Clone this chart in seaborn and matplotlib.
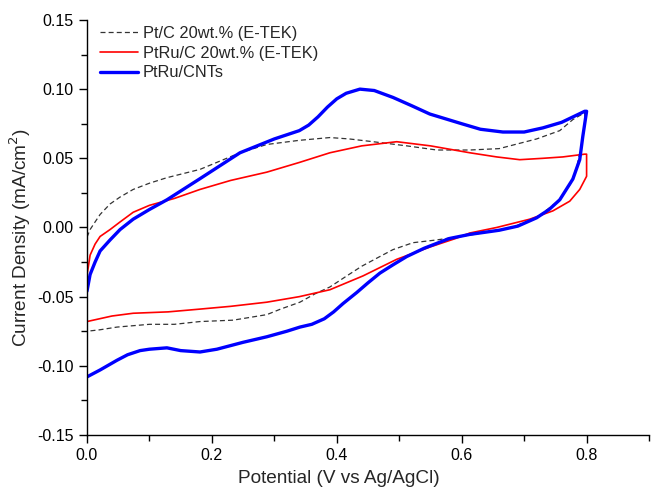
import matplotlib
matplotlib.use("Agg")
import matplotlib.pyplot as plt
import seaborn as sns
from matplotlib.ticker import MultipleLocator, FormatStrFormatter

# digitised CV loops: forward (anodic) sweep then reverse sweep
ptc_x = [0.0, 0.005, 0.013, 0.021, 0.037, 0.053, 0.074, 0.1, 0.128, 0.181, 0.245, 0.288, 0.34, 0.389,
         0.42, 0.458, 0.512, 0.56, 0.613, 0.66, 0.72, 0.757, 0.778, 0.797,
         0.797, 0.792, 0.785, 0.775, 0.757, 0.72, 0.68, 0.62, 0.56, 0.522, 0.49, 0.469, 0.44, 0.416,
         0.389, 0.365, 0.341, 0.31, 0.288, 0.234, 0.181, 0.14, 0.1, 0.048, 0.02, 0.0]
ptc_y = [-0.007, -0.0015, 0.004, 0.0094, 0.017, 0.022, 0.0275, 0.032, 0.036, 0.042, 0.054, 0.060, 0.063, 0.065,
         0.064, 0.062, 0.059, 0.056, 0.056, 0.057, 0.064, 0.070, 0.078, 0.083,
         0.075, 0.060, 0.045, 0.032, 0.020, 0.007, 0.0, -0.005, -0.009, -0.011, -0.016, -0.021, -0.028, -0.035,
         -0.043, -0.048, -0.054, -0.059, -0.063, -0.067, -0.068, -0.070, -0.070, -0.072, -0.074, -0.075]

ptru_x = [0.0, 0.002, 0.005, 0.013, 0.021, 0.037, 0.053, 0.074, 0.1, 0.14, 0.181, 0.23, 0.288, 0.34, 0.389,
          0.44, 0.496, 0.55, 0.613, 0.656, 0.693, 0.73, 0.762, 0.797,
          0.80, 0.80, 0.789, 0.773, 0.746, 0.709, 0.656, 0.613, 0.59, 0.55, 0.496, 0.442, 0.389, 0.34,
          0.288, 0.23, 0.181, 0.13, 0.074, 0.04, 0.0]
ptru_y = [-0.034, -0.029, -0.020, -0.012, -0.0065, -0.0015, 0.004, 0.011, 0.016, 0.021, 0.0275, 0.034, 0.040, 0.047, 0.054,
          0.059, 0.062, 0.059, 0.054, 0.051, 0.049, 0.050, 0.051, 0.053,
          0.053, 0.037, 0.0275, 0.019, 0.012, 0.006, 0.0, -0.004, -0.008, -0.014, -0.023, -0.035, -0.045, -0.050,
          -0.054, -0.057, -0.059, -0.061, -0.062, -0.064, -0.068]

cnt_x = [0.0, 0.005, 0.013, 0.021, 0.037, 0.053, 0.074, 0.1, 0.128, 0.18, 0.245, 0.3, 0.32, 0.34, 0.355, 0.37,
         0.385, 0.40, 0.415, 0.437, 0.46, 0.49, 0.52, 0.549, 0.6, 0.63, 0.666, 0.70, 0.73, 0.76, 0.797,
         0.80, 0.797, 0.794, 0.789, 0.778, 0.757, 0.74, 0.72, 0.69, 0.66, 0.613, 0.58, 0.54, 0.512,
         0.49, 0.469, 0.45, 0.432, 0.41, 0.395, 0.38, 0.36, 0.341, 0.32, 0.288, 0.25, 0.208, 0.181, 0.15, 0.128,
         0.1, 0.085, 0.065, 0.048, 0.021, 0.0]
cnt_y = [-0.046, -0.034, -0.025, -0.017, -0.009, -0.0015, 0.006, 0.013, 0.020, 0.035, 0.054, 0.064, 0.067, 0.070, 0.074, 0.080,
         0.087, 0.093, 0.097, 0.100, 0.099, 0.094, 0.088, 0.082, 0.075, 0.071, 0.069, 0.069, 0.072, 0.076, 0.084,
         0.084, 0.075, 0.066, 0.049, 0.035, 0.020, 0.013, 0.007, 0.001, -0.002, -0.005, -0.008, -0.015, -0.021,
         -0.027, -0.033, -0.040, -0.047, -0.055, -0.061, -0.066, -0.070, -0.072, -0.075, -0.079, -0.083, -0.088, -0.090, -0.089, -0.087,
         -0.088, -0.089, -0.092, -0.096, -0.103, -0.108]

labels = ["Pt/C 20wt.% (E-TEK)", "PtRu/C 20wt.% (E-TEK)", "PtRu/CNTs"]

sns.set_style("ticks")
plt.rcParams['font.family'] = ['Liberation Sans', 'DejaVu Sans']

fig = plt.figure(figsize=(6.51, 4.87), dpi=100)
ax = fig.add_axes([0.1336, 0.1068, 0.8634, 0.8522])

sns.lineplot(x=ptc_x, y=ptc_y, sort=False, estimator=None, ax=ax, color="#333333",
             lw=0.9, linestyle=(0, (4, 2.5)), label=labels[0])
sns.lineplot(x=ptru_x, y=ptru_y, sort=False, estimator=None, ax=ax, color="#ff0000",
             lw=1.2, label=labels[1])
sns.lineplot(x=cnt_x, y=cnt_y, sort=False, estimator=None, ax=ax, color="#0000ff",
             lw=2.4, label=labels[2])

ax.set_xlim(0, 0.9)
ax.set_ylim(-0.15, 0.15)
ax.xaxis.set_major_locator(MultipleLocator(0.2))
ax.xaxis.set_minor_locator(MultipleLocator(0.1))
ax.yaxis.set_major_locator(MultipleLocator(0.05))
ax.yaxis.set_minor_locator(MultipleLocator(0.025))
ax.xaxis.set_major_formatter(FormatStrFormatter('%.1f'))
ax.yaxis.set_major_formatter(FormatStrFormatter('%.2f'))
ax.tick_params(which='major', length=6, width=1, labelsize=11.5, color='black', labelcolor='black')
ax.tick_params(which='minor', length=4, width=1, color='black')
for s in ['left', 'bottom']:
    ax.spines[s].set_color('black')
    ax.spines[s].set_linewidth(1)
sns.despine(ax=ax)

ax.set_xlabel("Potential (V vs Ag/AgCl)", fontsize=13.7)
ax.xaxis.set_label_coords(0.448, -0.084)
ax.set_ylabel("Current Density (mA/cm$^2$)", fontsize=13.7)
ax.yaxis.set_label_coords(-0.096, 0.475)

ax.legend(loc='upper left', bbox_to_anchor=(0.006, 1.009), frameon=False, fontsize=11.8,
          handlelength=2.3, handletextpad=0.3, labelspacing=0.28, borderaxespad=0.2)

fig.savefig("out.png", dpi=100)
